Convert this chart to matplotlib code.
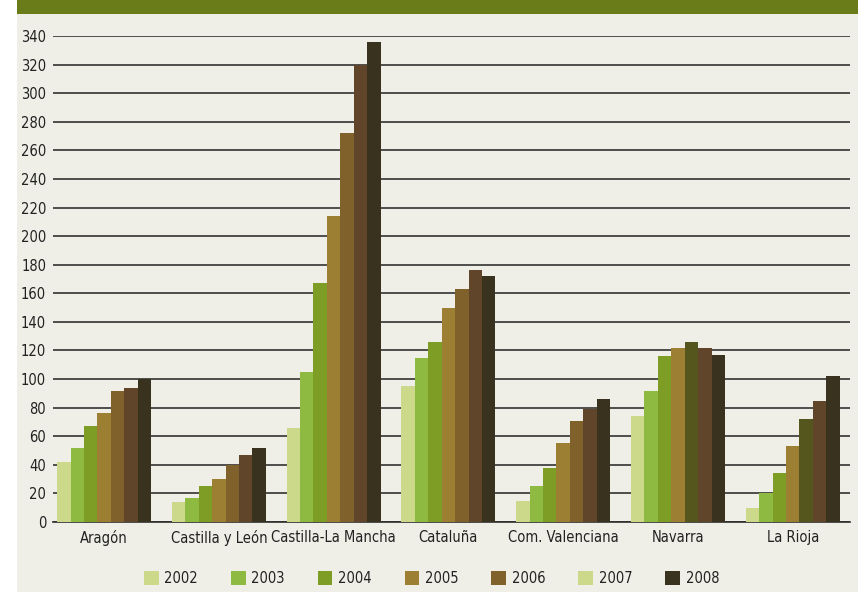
import numpy as np
import matplotlib.pyplot as plt
from matplotlib.patches import Patch, Rectangle

plt.rcParams['font.family'] = ['DejaVu Sans']
plt.rcParams['font.stretch'] = 'condensed'

regions = ["Aragón", "Castilla y León", "Castilla-La Mancha", "Cataluña",
           "Com. Valenciana", "Navarra", "La Rioja"]
years = ["2002", "2003", "2004", "2005", "2006", "2007", "2008"]

# one list per bar position inside each group
v2002 = [42, 14, 66, 95, 15, 74, 10]
v2003 = [52, 17, 105, 115, 25, 92, 20]
v2004 = [67, 25, 167, 126, 38, 116, 34]
v2005 = [76, 30, 214, 150, 55, 122, 53]
v2006 = [92, 40, 272, 163, 71, 126, 72]
v2007 = [94, 47, 320, 176, 79, 122, 85]
v2008 = [100, 52, 336, 172, 86, 117, 102]
series = [v2002, v2003, v2004, v2005, v2006, v2007, v2008]

bar_colors = ['#cdd98a', '#8fba42', '#7e9d25', '#9c7f32', '#80602b', '#61452a', '#38321f']
legend_colors = ['#cdd98a', '#8fba42', '#7e9d25', '#9c7f32', '#80602b', '#cdd98a', '#38321f']
alt_color = '#54561e'  # 5th bar in Navarra and La Rioja

fig = plt.figure(figsize=(8.58, 5.92), dpi=100, facecolor='white')
fig.patches.append(Rectangle((0.0198, 0), 1, 0.9764, transform=fig.transFigure,
                             facecolor='#efefe7', edgecolor='none', zorder=-2))
fig.patches.append(Rectangle((0.0198, 0.9764), 1, 0.03, transform=fig.transFigure,
                             facecolor='#6a7c1a', edgecolor='none', zorder=-2))

ax = fig.add_axes([0.0618, 0.1182, 0.929, 0.821])
ax.set_facecolor('none')
ax.set_zorder(2)

x = np.arange(len(regions))
w = 0.117
for i, vals in enumerate(series):
    cols = [bar_colors[i]] * len(regions)
    if i == 4:
        cols[5] = alt_color
        cols[6] = alt_color
    ax.bar(x + (i - 3) * w, vals, width=w, color=cols, zorder=3)

ax.set_ylim(0, 340)
ax.set_xlim(-0.445, 6.5)
ax.set_yticks(range(0, 341, 20))
ax.yaxis.grid(True, color='#222222', linewidth=1.1)
ax.set_axisbelow(True)
for s in ['top', 'right', 'left']:
    ax.spines[s].set_visible(False)
ax.spines['bottom'].set_color('#2e2e2e')
ax.spines['bottom'].set_linewidth(1.2)
ax.tick_params(axis='both', length=0, labelsize=10.5, colors='#222222')
ax.tick_params(axis='y', pad=5)
ax.tick_params(axis='x', pad=6)
ax.set_xticks(x)
ax.set_xticklabels(regions)

handles = [Patch(facecolor=c, edgecolor='none') for c in legend_colors]
fig.legend(handles, years, loc='center', bbox_to_anchor=(0.503, 0.023), ncol=7,
           frameon=False, fontsize=10.5, handlelength=1.0, handleheight=1.1,
           handletextpad=0.4, columnspacing=2.25, labelcolor='#222222')

fig.savefig('out.png', dpi=100, facecolor=fig.get_facecolor())
